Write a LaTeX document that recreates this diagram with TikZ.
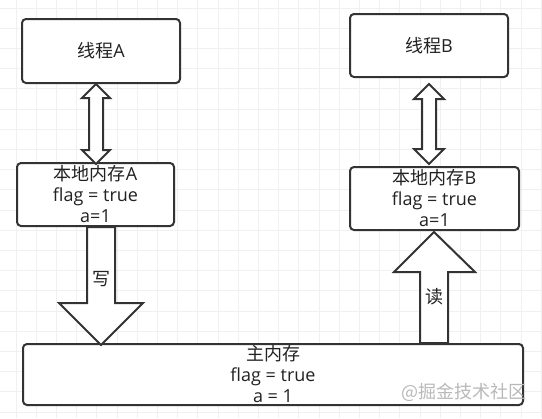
\documentclass[tikz,border=0pt]{standalone}
\usepackage{fontspec}
\setmainfont{Open Sans}
\newfontfamily\cjk{Noto Sans CJK SC}
\usepackage{tikz}
\usetikzlibrary{calc, positioning}
\definecolor{edge}{HTML}{333333}
\definecolor{ink}{HTML}{222222}
\tikzset{
  box/.style={draw=edge, line width=1.5pt, rounded corners=3pt, fill=white, align=center,
    text=ink, font=\fontsize{13.5}{15.75}\selectfont, inner sep=0pt},
  fat/.style={draw=edge, line width=1.5pt, fill=white, line join=miter},
  gridline/.style={gray!12, line width=0.6pt},
  tag/.style={text=ink, font=\cjk\fontsize{13.5}{15.75}\selectfont, inner sep=0pt}
}

\begin{document}
\begin{tikzpicture}[x=0.75pt,y=-0.75pt]
  \useasboundingbox (0,0) rectangle (542,418);
  % background grid
  \foreach \i in {0,...,26}
    \draw[gridline] ({16+20.2*\i},0) -- ({16+20.2*\i},418);
  \foreach \j in {0,...,20}
    \draw[gridline] (0,{8+20.2*\j}) -- (542,{8+20.2*\j});

  % boxes
  \node[box, minimum width=118.5pt, minimum height=48pt] (thA) at (101,51) {{\cjk 线程}A};
  \node[box, minimum width=117.75pt, minimum height=47.25pt] (lmA) at (95.5,194.5)
    {{\cjk 本地内存}A\\flag = true\\a=1};
  \node[box, minimum width=118.5pt, minimum height=47.25pt] (thB) at (429,45.5) {{\cjk 线程}B};
  \node[box, minimum width=126.75pt, minimum height=47.25pt] (lmB) at (434.5,198.5)
    {{\cjk 本地内存}B\\flag = true\\a=1};
  \node[box, minimum width=375pt, minimum height=45.75pt] (mm) at (273,374.5)
    {{\cjk 主内存}\\flag = true\\a = 1};

  % columns of the big arrows
  \coordinate (colA) at (96,0);
  \coordinate (colB) at (429,0);
  \coordinate (colW) at (101,0);
  \coordinate (colR) at (434,0);

  % thread <-> local memory
  \draw[fat] (thA.south -| colA) -- ++(14,14) -- ++(-7,0) -- ++(0,52) -- ++(7,0) -- ++(-14,14)
    -- ++(-14,-14) -- ++(7,0) -- ++(0,-52) -- ++(-7,0) -- cycle;
  \draw[fat] (thB.south -| colB) ++(0,6) -- ++(15,15) -- ++(-8,0) -- ++(0,50) -- ++(8,0) -- ++(-15,15)
    -- ++(-15,-15) -- ++(8,0) -- ++(0,-50) -- ++(-8,0) -- cycle;

  % write: local memory A -> main memory
  \draw[fat] (lmA.south -| colW) ++(-14,0) -- ++(28,0) -- ++(0,76) -- ++(28,0) -- ++(-42,42)
    -- ++(-42,-42) -- ++(28,0) -- cycle;
  \node[tag] (write) at (101,279) {写};

  % read: main memory -> local memory B
  \draw[fat] (mm.north -| colR) ++(-14,0) -- ++(0,-71) -- ++(-26,0) -- ++(40,-40) -- ++(41,40)
    -- ++(-27,0) -- ++(0,71) -- cycle;
  \node[tag] (read) at (434,297) {读};

  % watermark
  \node[tag, text=gray!55] (mark) at (464,392) {@掘金技术社区};
\end{tikzpicture}
\end{document}
